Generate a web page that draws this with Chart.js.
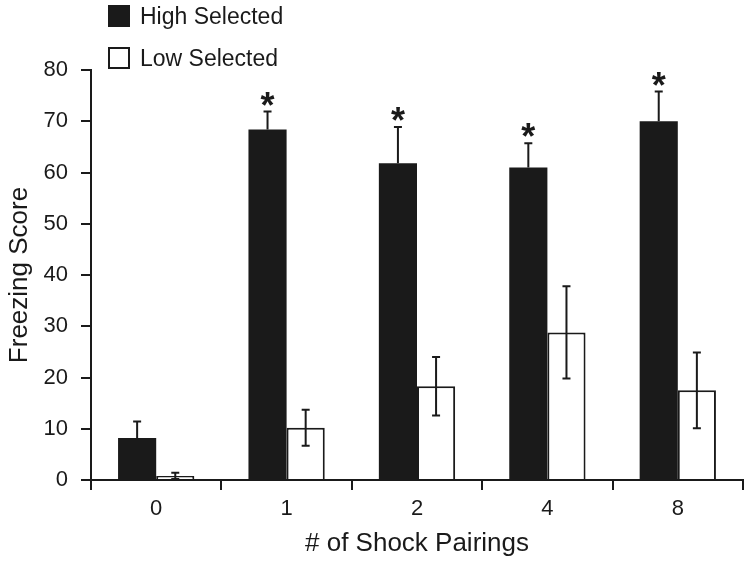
<!DOCTYPE html>
<html>
<head>
<meta charset="utf-8">
<script src="https://cdn.jsdelivr.net/npm/chart.js@4"></script>
<style>
  body { margin: 0; background: #fff; }
  #wrap { position: relative; width: 750px; height: 563px; }
  #legend { position: absolute; left: 108px; top: 5px; font-family: "Liberation Sans", Arial, sans-serif; font-size: 23px; color: #1a1a1a; }
  .item { display: flex; align-items: center; height: 22px; margin-bottom: 20px; }
  .box { width: 22px; height: 22px; box-sizing: border-box; margin-right: 10px; }
</style>
</head>
<body>
<div id="wrap">
  <canvas id="chart" width="750" height="563"></canvas>
  <div id="legend"></div>
</div>
<script>
// data
const pairings = ['0', '1', '2', '4', '8'];
const highSelected = [8.2, 68.4, 61.8, 61.0, 70.0];
const highErr = [3.2, 3.5, 7.1, 4.7, 5.8];
const lowSelected = [0.8, 10.2, 18.3, 28.8, 17.5];
const lowErr = [0.6, 3.5, 5.7, 9.0, 7.4];
const significant = [false, true, true, true, true];
const yTicks = [0, 10, 20, 30, 40, 50, 60, 70, 80];

const FONT = '"Liberation Sans", Arial, sans-serif';
const INK = '#1a1a1a';

// error bars + asterisks
const errorBars = {
    id: 'errorBars',
    afterDatasetsDraw(chart) {
        const ctx = chart.ctx;
        const y = chart.scales.y;
        const errs = [highErr, lowErr];
        ctx.save();
        ctx.strokeStyle = INK;
        ctx.lineWidth = 2;
        chart.data.datasets.forEach((ds, di) => {
            const meta = chart.getDatasetMeta(di);
            meta.data.forEach((bar, i) => {
                const v = ds.data[i];
                const top = y.getPixelForValue(v + errs[di][i]);
                const bottom = di === 0 ? y.getPixelForValue(v) : y.getPixelForValue(v - errs[di][i]);
                ctx.beginPath();
                ctx.moveTo(bar.x, top);
                ctx.lineTo(bar.x, bottom);
                ctx.moveTo(bar.x - 4, top);
                ctx.lineTo(bar.x + 4, top);
                if (di === 1) {
                    ctx.moveTo(bar.x - 4, bottom);
                    ctx.lineTo(bar.x + 4, bottom);
                }
                ctx.stroke();
                if (di === 0 && significant[i]) {
                    ctx.fillStyle = INK;
                    ctx.font = 'bold 36px ' + FONT;
                    ctx.textAlign = 'center';
                    ctx.textBaseline = 'alphabetic';
                    ctx.fillText('*', bar.x, top + 6);
                }
            });
        });
        ctx.restore();
    }
};

const chart = new Chart(document.getElementById('chart'), {
    type: 'bar',
    data: {
        labels: pairings,
        datasets: [{
            label: 'High Selected',
            data: highSelected,
            backgroundColor: INK,
            borderWidth: 0
        }, {
            label: 'Low Selected',
            data: lowSelected,
            backgroundColor: '#ffffff',
            borderColor: INK,
            borderWidth: 2
        }]
    },
    options: {
        responsive: false,
        animation: false,
        layout: { padding: { top: 70, right: 7, left: 0, bottom: 0 } },
        plugins: {
            legend: { display: false },
            tooltip: { enabled: false }
        },
        datasets: {
            bar: { categoryPercentage: 0.585, barPercentage: 1.0 }
        },
        scales: {
            x: {
                offset: true,
                grid: { offset: true, drawOnChartArea: false, tickLength: 10, color: INK, lineWidth: 2 },
                border: { display: true, color: INK, width: 2 },
                ticks: { color: INK, font: { family: FONT, size: 22 }, padding: 6 },
                title: { display: true, text: '# of Shock Pairings', color: INK, font: { family: FONT, size: 26 }, padding: { top: 4 } },
                afterFit(scale) { scale.height = 83; }
            },
            y: {
                min: 0,
                max: 80,
                afterBuildTicks(scale) { scale.ticks = yTicks.map(v => ({ value: v })); },
                grid: { drawOnChartArea: false, tickLength: 10, color: INK, lineWidth: 2 },
                border: { display: true, color: INK, width: 2 },
                ticks: { color: INK, font: { family: FONT, size: 22 }, padding: 13 },
                title: { display: true, text: 'Freezing Score', color: INK, font: { family: FONT, size: 26 }, padding: { bottom: 2 } },
                afterFit(scale) { scale.width = 91; }
            }
        }
    },
    plugins: [errorBars]
});

// legend built from the datasets, stacked vertically
const legend = document.getElementById('legend');
chart.data.datasets.forEach(ds => {
    const item = document.createElement('div');
    item.className = 'item';
    const box = document.createElement('span');
    box.className = 'box';
    box.style.background = ds.backgroundColor;
    if (ds.borderWidth) box.style.border = '2px solid ' + ds.borderColor;
    const txt = document.createElement('span');
    txt.textContent = ds.label;
    item.appendChild(box);
    item.appendChild(txt);
    legend.appendChild(item);
});
</script>
</body>
</html>
